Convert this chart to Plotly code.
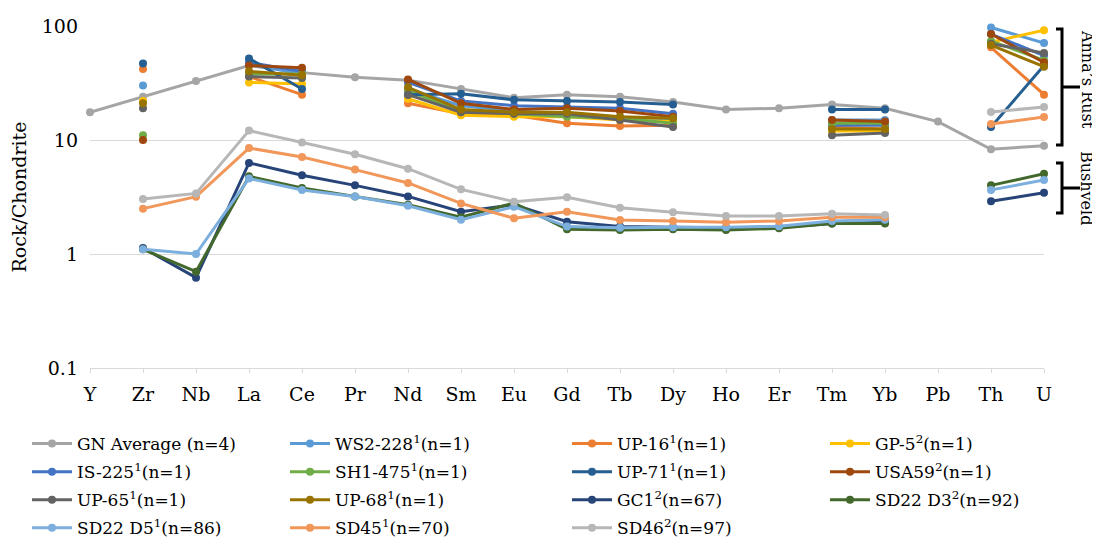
import plotly.graph_objects as go

N = None
elements = ["Y", "Zr", "Nb", "La", "Ce", "Pr", "Nd", "Sm", "Eu", "Gd", "Tb", "Dy", "Ho", "Er", "Tm", "Yb", "Pb", "Th", "U"]

gn_average = [17.5, 24, 33, 45, 39, 35.5, 33.5, 28, 23.5, 25, 24, 21.5, 18.5, 19, 20.5, 19, 14.5, 8.3, 8.9]

ws2_228 = [N, 30, N, 46, 38, N, 28, 20, 18, 17, 16, 15, N, N, 15, 15, N, 97, 71]
up_16 = [N, 42, N, 36, 25, N, 21, 17, 16.5, 14, 13.3, 13.5, N, N, 13, 12.5, N, 65, 25]
gp_5 = [N, 22, N, 32, 31, N, 23, 16.5, 16, 16, 15, 14.5, N, N, 12, 12, N, 72, 92]
is_225 = [N, N, N, 48, 40, N, 32, 22, 20, 19.5, 19, 17, N, N, 13.5, 13.5, N, 85, 55]
sh1_475 = [N, 11, N, 38, 38, N, 27, 18, 17, 16, 15.5, 14, N, N, 14, 14, N, 74, 50]
up_71 = [N, 47, N, 52, 28, N, 25, 25.5, 22.5, 22, 21.5, 20.5, N, N, 18.5, 18.5, N, 13, 45]
usa59 = [N, 10, N, 45, 43, N, 34, 21, 18.5, 19, 18, 16, N, N, 15, 14.5, N, 85, 48]
up_65 = [N, 19, N, 36, 35, N, 25, 17.5, 17, 17, 15, 13, N, N, 11, 11.5, N, 70, 58]
up_68 = [N, 21, N, 40, 37, N, 29, 18.5, 17.5, 17.5, 16, 15.5, N, N, 12.5, 12.5, N, 68, 44]

gc1 = [N, 1.13, 0.62, 6.3, 4.9, 4.0, 3.2, 2.35, 2.7, 1.92, 1.74, 1.72, 1.7, 1.72, 1.85, 1.9, N, 2.9, 3.45]
sd22_d3 = [N, 1.1, 0.7, 4.8, 3.8, 3.2, 2.7, 2.1, 2.8, 1.65, 1.62, 1.65, 1.62, 1.68, 1.85, 1.85, N, 4.0, 5.05]
sd22_d5 = [N, 1.1, 1.0, 4.6, 3.65, 3.2, 2.65, 2.0, 2.6, 1.74, 1.7, 1.72, 1.72, 1.75, 1.95, 2.0, N, 3.65, 4.45]
sd45 = [N, 2.5, 3.18, 8.5, 7.1, 5.5, 4.2, 2.78, 2.06, 2.35, 1.99, 1.95, 1.9, 1.95, 2.1, 2.1, N, 13.8, 15.9]
sd46 = [N, 3.04, 3.4, 12.1, 9.5, 7.5, 5.6, 3.69, 2.88, 3.14, 2.55, 2.32, 2.15, 2.15, 2.25, 2.2, N, 17.6, 19.5]

# (name, values, color, legend)
series = [
    ("GN Average (n=4)", gn_average, "#A5A5A5", "legend"),
    ("WS2-228<sup>1</sup>(n=1)", ws2_228, "#5B9BD5", "legend2"),
    ("UP-16<sup>1</sup>(n=1)", up_16, "#ED7D31", "legend3"),
    ("GP-5<sup>2</sup>(n=1)", gp_5, "#FFC000", "legend4"),
    ("IS-225<sup>1</sup>(n=1)", is_225, "#4472C4", "legend"),
    ("SH1-475<sup>1</sup>(n=1)", sh1_475, "#70AD47", "legend2"),
    ("UP-71<sup>1</sup>(n=1)", up_71, "#255E91", "legend3"),
    ("USA59<sup>2</sup>(n=1)", usa59, "#9E480E", "legend4"),
    ("UP-65<sup>1</sup>(n=1)", up_65, "#636363", "legend"),
    ("UP-68<sup>1</sup>(n=1)", up_68, "#997300", "legend2"),
    ("GC1<sup>2</sup>(n=67)", gc1, "#264478", "legend3"),
    ("SD22 D3<sup>2</sup>(n=92)", sd22_d3, "#43682B", "legend4"),
    ("SD22 D5<sup>1</sup>(n=86)", sd22_d5, "#7CAFDD", "legend"),
    ("SD45<sup>1</sup>(n=70)", sd45, "#F1975A", "legend2"),
    ("SD46<sup>2</sup>(n=97)", sd46, "#B7B7B7", "legend3"),
]

FONT = "DejaVu Serif"

fig = go.Figure()
for i, (name, vals, color, lg) in enumerate(series):
    fig.add_trace(go.Scatter(
        x=elements, y=vals, name=name, mode="lines+markers",
        line=dict(color=color, width=3),
        marker=dict(color=color, size=8),
        connectgaps=False, cliponaxis=False,
        legend=lg, legendgroup=f"g{i}",
    ))

# page offset (body margin) compensation: all positions below are screen pixels
OFF = 8
FW, FH = 1100 - OFF, 544 - OFF
W0, W1 = 90, 1044
H0, H1 = 26, 368


def px(x):
    return (x - W0) / (W1 - W0)


def py(y):
    return (H1 - y) / (H1 - H0)


legend_style = dict(orientation="v", xanchor="left", yanchor="top",
                    bgcolor="rgba(0,0,0,0)", font=dict(family=FONT, size=17, color="#000000"),
                    tracegroupgap=3, itemwidth=40)

legend_cols = [27, 285, 567, 825]
layout_legends = {}
for k, xpos in enumerate(legend_cols):
    key = "legend" if k == 0 else f"legend{k + 1}"
    layout_legends[key] = dict(legend_style, x=px(xpos), y=py(426))

shapes = []
for top, bot in [(29, 145), (163, 213)]:
    mid = (top + bot) / 2
    path = (f"M {px(1056)},{py(top)} L {px(1062)},{py(top)} L {px(1062)},{py(bot)} L {px(1056)},{py(bot)} "
            f"M {px(1062)},{py(mid)} L {px(1080)},{py(mid)}")
    shapes.append(dict(type="path", xref="paper", yref="paper", path=path,
                       line=dict(color="#000000", width=3)))

annotations = [
    dict(text="Anna’s Rust", x=px(1087), y=py(79), xref="paper", yref="paper",
         xanchor="center", yanchor="middle",
         showarrow=False, textangle=90, font=dict(family=FONT, size=16, color="#000000")),
    dict(text="Bushveld", x=px(1087), y=py(188), xref="paper", yref="paper",
         xanchor="center", yanchor="middle",
         showarrow=False, textangle=90, font=dict(family=FONT, size=16, color="#000000")),
]

fig.update_layout(
    width=FW, height=FH,
    margin=dict(l=W0 - OFF, r=1100 - W1, t=H0 - OFF, b=544 - H1, autoexpand=False),
    paper_bgcolor="white", plot_bgcolor="white",
    font=dict(family=FONT, size=18, color="#000000"),
    showlegend=True,
    shapes=shapes, annotations=annotations,
    xaxis=dict(type="category", range=[0, 18], showgrid=False, showline=True,
               linecolor="#D9D9D9", linewidth=1, ticks="outside", ticklen=4,
               tickcolor="#D9D9D9", tickfont=dict(family=FONT, size=19, color="#000000"),
               ticklabelstandoff=5, zeroline=False, automargin=False),
    yaxis=dict(type="log", range=[-1, 2], tickvals=[0.1, 1, 10, 100],
               ticktext=["0.1", "1", "10", "100"], showgrid=True, gridcolor="#D9D9D9",
               gridwidth=1, zeroline=False, showline=False, automargin=False,
               ticklabelstandoff=11,
               tickfont=dict(family=FONT, size=19, color="#000000"),
               title=dict(text="Rock/Chondrite", font=dict(family=FONT, size=19, color="#000000"),
                          standoff=13)),
    **layout_legends,
)

fig.write_html("out.html")
